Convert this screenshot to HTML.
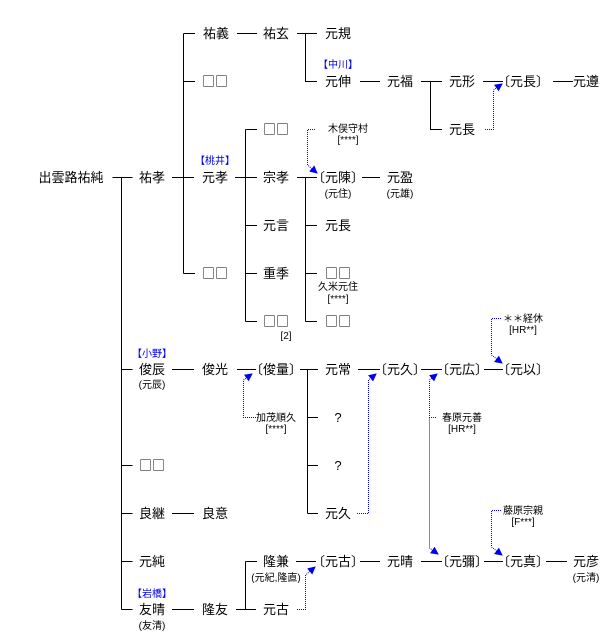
<!DOCTYPE html>
<html><head><meta charset="utf-8"><style>
html,body{margin:0;padding:0;background:#fff;}
svg{display:block;}
text{font-family:"Liberation Sans","Noto Sans CJK JP",sans-serif;text-anchor:middle;fill:#000;}
.m{font-size:13px;}
.s{font-size:10px;}
.b{font-size:10px;fill:#0000ee;}
.q{font-family:"Noto Sans CJK JP",sans-serif;font-size:13px;}
.l{stroke:#000;stroke-width:1;fill:none;}
.d{stroke:#0000ee;stroke-width:1;stroke-dasharray:1,1;fill:none;}
</style></head><body>
<svg width="613" height="643" viewBox="0 0 613 643" xmlns="http://www.w3.org/2000/svg">
<defs><marker id="a" markerWidth="8" markerHeight="8" refX="7" refY="4" orient="auto" markerUnits="userSpaceOnUse"><path d="M0,0 L8,4 L0,8 z" fill="#0000ee"/></marker></defs>
<g class="l">
<path d="M112.5,177.5H132.5"/>
<path d="M121.5,177.5V609.5M121.5,369.5H132.5M121.5,465.5H132.5M121.5,513.5H132.5M121.5,561.5H132.5M121.5,609.5H132.5"/>
<path d="M172,177.5H194"/>
<path d="M183.5,33.5V273.5M183.5,33.5H195M183.5,81.5H195M183.5,273.5H195"/>
<path d="M237,33.5H257"/>
<path d="M297,33.5H317M305.5,33.5V81.5H317"/>
<path d="M360,81.5H380"/>
<path d="M421,81.5H442M430.5,81.5V129.5H442"/>
<path d="M483,81.5H503"/>
<path d="M553,81.5H573"/>
<path d="M235,177.5H257M245.5,129.5V321.5M245.5,129.5H257M245.5,225.5H257M245.5,273.5H257M245.5,321.5H257"/>
<path d="M297,177.5H317M305.5,177.5V321.5M305.5,225.5H317M305.5,273.5H317M305.5,321.5H317"/>
<path d="M362,177.5H380"/>
<path d="M172,369.5H194M237,369.5H256"/>
<path d="M300,369.5H318M307.5,369.5V513.5M307.5,417.5H318M307.5,465.5H318M307.5,513.5H318"/>
<path d="M358,369.5H380M421,369.5H442M484,369.5H503"/>
<path d="M172,513.5H194"/>
<path d="M236,609.5H256M245.5,561.5V609.5M245.5,561.5H257"/>
<path d="M172,609.5H194"/>
<path d="M296,561.5H316M360,561.5H380M421,561.5H442M484,561.5H503M546,561.5H567"/>
</g>
<g class="d">
<path d="M485,129.5H493.5V90L502,84" marker-end="url(#a)"/>
<path d="M315,129.5H307.5V165L317,173" marker-end="url(#a)"/>
<path d="M258,417.5H243.5V380L252,374" marker-end="url(#a)"/>
<path d="M357,513.5H368.5V380L376,374" marker-end="url(#a)"/>
<path d="M436,417.5H429.5V380L437,374" marker-end="url(#a)"/>
<path d="M429.5,417.5V548L438,554" marker-end="url(#a)"/>
<path d="M501,318.5H491.5V355L502,363" marker-end="url(#a)"/>
<path d="M501,510.5H491.5V547L502,555" marker-end="url(#a)"/>
<path d="M297,609.5H305.5V575L315,567" marker-end="url(#a)"/>
</g>
<g class="m">
<text x="71" y="182">出雲路祐純</text>
<text x="152" y="182">祐孝</text>
<text x="216" y="38">祐義</text>
<text x="276" y="38">祐玄</text>
<text x="338" y="38">元規</text>
<text class="q" x="215" y="86">□□</text>
<text x="338" y="86">元伸</text>
<text x="400" y="86">元福</text>
<text x="462" y="86">元形</text>
<text x="523" y="86">〔元長〕</text>
<text x="586" y="86">元遵</text>
<text class="q" x="276" y="134">□□</text>
<text x="462" y="134">元長</text>
<text x="215" y="182">元孝</text>
<text x="276" y="182">宗孝</text>
<text x="338" y="182">〔元陳〕</text>
<text x="400" y="182">元盈</text>
<text x="276" y="230">元言</text>
<text x="338" y="230">元長</text>
<text class="q" x="215" y="278">□□</text>
<text x="276" y="278">重季</text>
<text class="q" x="338" y="278">□□</text>
<text class="q" x="276" y="326">□□</text>
<text class="q" x="338" y="326">□□</text>
<text x="152" y="374">俊辰</text>
<text x="215" y="374">俊光</text>
<text x="276" y="374">〔俊量〕</text>
<text x="338" y="374">元常</text>
<text x="400" y="374">〔元久〕</text>
<text x="462" y="374">〔元広〕</text>
<text x="523" y="374">〔元以〕</text>
<text x="338" y="422">?</text>
<text class="q" x="152" y="470">□□</text>
<text x="338" y="470">?</text>
<text x="152" y="518">良継</text>
<text x="215" y="518">良意</text>
<text x="338" y="518">元久</text>
<text x="152" y="566">元純</text>
<text x="276" y="566">隆兼</text>
<text x="338" y="566">〔元古〕</text>
<text x="400" y="566">元晴</text>
<text x="462" y="566">〔元彌〕</text>
<text x="523" y="566">〔元真〕</text>
<text x="586" y="566">元彦</text>
<text x="152" y="614">友晴</text>
<text x="215" y="614">隆友</text>
<text x="276" y="614">元古</text>
</g>
<g>
<text class="b" x="338" y="68">【中川】</text>
<text class="b" x="215" y="164">【桃井】</text>
<text class="b" x="152" y="357">【小野】</text>
<text class="b" x="152" y="597">【岩橋】</text>
<text class="s" x="348" y="132">木俣守村</text>
<text class="s" x="348" y="143">[****]</text>
<text class="s" x="338" y="197">(元住)</text>
<text class="s" x="400" y="197">(元雄)</text>
<text class="s" x="338" y="290">久米元住</text>
<text class="s" x="338" y="302">[****]</text>
<text class="s" x="286" y="339">[2]</text>
<text class="s" x="152" y="388">(元辰)</text>
<text class="s" x="276" y="421">加茂順久</text>
<text class="s" x="276" y="432">[****]</text>
<text class="s" x="462" y="421">春原元善</text>
<text class="s" x="462" y="432">[HR**]</text>
<text class="s" x="523" y="322">＊＊経休</text>
<text class="s" x="523" y="333">[HR**]</text>
<text class="s" x="523" y="514">藤原宗親</text>
<text class="s" x="523" y="525">[F***]</text>
<text class="s" x="276" y="581">(元紀,隆直)</text>
<text class="s" x="586" y="581">(元清)</text>
<text class="s" x="152" y="629">(友清)</text>
</g>
</svg>
</body></html>
